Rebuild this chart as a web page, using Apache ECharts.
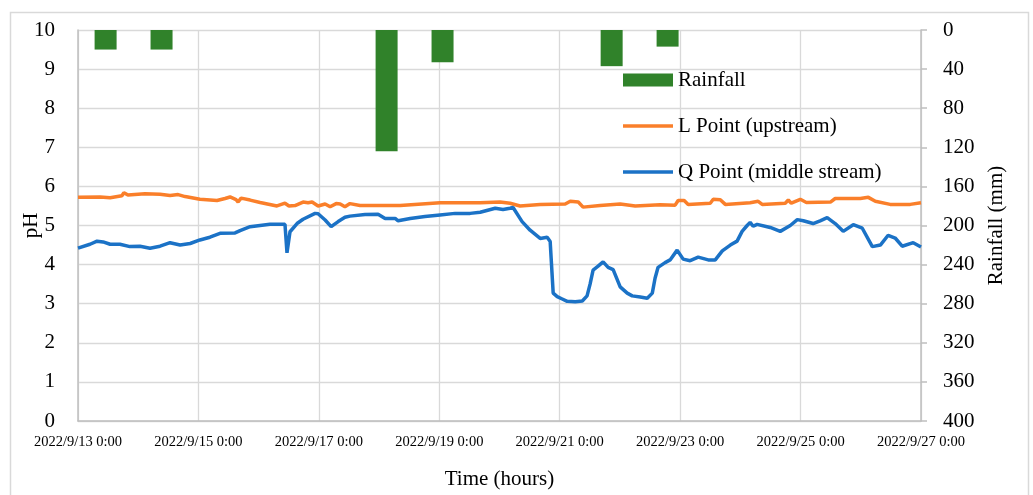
<!DOCTYPE html>
<html>
<head>
<meta charset="utf-8">
<script src="https://cdn.jsdelivr.net/npm/echarts@6/dist/echarts.min.js"></script>
<style>
  html, body { margin: 0; padding: 0; background: #fff; }
</style>
</head>
<body>
<div id="main" style="width: 1033px; height: 495px"></div>
<script>
// x values are hours after 2022/9/13 0:00
var xLabels = ['2022/9/13 0:00', '2022/9/15 0:00', '2022/9/17 0:00', '2022/9/19 0:00',
  '2022/9/21 0:00', '2022/9/23 0:00', '2022/9/25 0:00', '2022/9/27 0:00']

// rainfall (mm)
var rainHours = [11.0, 33.3, 123.0, 145.3, 212.7, 235.0]
var rainValues = [20, 20, 124, 33, 37, 17]

// L Point (upstream)
var lHours = [0, 8.8, 12.8, 17.5, 18.3, 19.9, 26.7, 32.7, 36.7, 39.9, 42.7, 48.6, 55.4, 58.6, 60.6, 63,
  63.8, 65, 68.6, 72.6, 79.3, 82.5, 84.1, 86.5, 89.7, 91.7, 93.3, 95.7, 98.5, 100.5, 102.9, 104.5,
  106.4, 108.4, 112.4, 128.4, 144.3, 160.3, 168.2, 172.2, 176.2, 184.2, 194.2, 196.2, 199.4, 201.3,
  208.1, 216.1, 222.1, 232, 238, 239.2, 241.6, 243.2, 252, 253.2, 256, 258, 267.9, 271.1, 272.7,
  281.9, 283.1, 284.3, 287.9, 290.3, 299.9, 301.8, 311.8, 315, 317.8, 323.7, 331.7, 336]
var lPH = [5.72, 5.73, 5.71, 5.76, 5.84, 5.78, 5.81, 5.8, 5.77, 5.79, 5.74, 5.67, 5.64, 5.69, 5.73, 5.66,
  5.6, 5.7, 5.65, 5.59, 5.5, 5.57, 5.5, 5.51, 5.6, 5.58, 5.6, 5.5, 5.55, 5.48, 5.56, 5.55,
  5.48, 5.56, 5.51, 5.51, 5.58, 5.58, 5.6, 5.57, 5.5, 5.54, 5.55, 5.62, 5.6, 5.47,
  5.51, 5.55, 5.5, 5.53, 5.52, 5.64, 5.64, 5.54, 5.57, 5.67, 5.66, 5.54, 5.58, 5.62, 5.54,
  5.57, 5.65, 5.57, 5.67, 5.59, 5.6, 5.69, 5.69, 5.72, 5.62, 5.54, 5.54, 5.58]

// Q Point (middle stream)
var qHours = [0, 4.8, 7.6, 10, 12.8, 16.7, 20.7, 24.7, 28.7, 32.7, 36.7, 40.7, 44.7, 48.6, 52.6, 56.6,
  62.6, 64.6, 68.6, 76.5, 82.5, 83.3, 84.5, 87.3, 89.7, 94.5, 95.7, 98.5, 100.9, 103.7, 106.4, 108.4,
  114.4, 119.6, 122.4, 126.4, 127.6, 132.4, 138.3, 144.3, 150.3, 156.3, 160.3, 166.3, 169.4, 172.2,
  173.4, 177, 180.2, 184.2, 187, 188.2, 189.4, 191, 193, 195, 198.2, 201, 202.9, 204.1, 205.3, 207.3,
  209.3, 211.3, 213.3, 216.1, 218.9, 220.9, 224.1, 226.9, 228.9, 230, 231.2, 234, 236, 238.8, 241.2,
  244, 247.2, 251.2, 254, 256.8, 260, 262.7, 264.7, 266.7, 267.9, 269.1, 270.7, 275.9, 279.9, 283.9,
  286.7, 289.1, 293, 295.8, 298.6, 301.8, 305, 309, 312.6, 316.6, 319.8, 322.9, 325.7, 328.5, 332.9, 336]
var qPH = [4.42, 4.52, 4.6, 4.58, 4.52, 4.52, 4.46, 4.47, 4.42, 4.47, 4.56, 4.5, 4.54, 4.63, 4.7, 4.8,
  4.81, 4.87, 4.97, 5.03, 5.03, 4.3, 4.84, 5.05, 5.16, 5.31, 5.3, 5.14, 4.97, 5.1, 5.21, 5.24,
  5.28, 5.29, 5.18, 5.18, 5.12, 5.18, 5.23, 5.27, 5.31, 5.31, 5.34, 5.44, 5.41, 5.44,
  5.46, 5.1, 4.88, 4.67, 4.7, 4.59, 3.27, 3.18, 3.12, 3.06, 3.05, 3.07, 3.2, 3.5, 3.86, 3.96,
  4.07, 3.93, 3.87, 3.43, 3.27, 3.2, 3.17, 3.14, 3.27, 3.65, 3.93, 4.05, 4.12, 4.37, 4.14,
  4.1, 4.19, 4.12, 4.12, 4.35, 4.5, 4.6, 4.85, 5.0, 5.08, 4.98, 5.03, 4.95, 4.85, 5.0,
  5.15, 5.12, 5.05, 5.12, 5.2, 5.05, 4.85, 5.02, 4.93, 4.46, 4.5, 4.75, 4.68, 4.47, 4.56, 4.45]

function pairs(xs, ys) {
  return xs.map(function(x, i) { return [x, ys[i]] })
}

var font = 'Liberation Serif'
var lineIcon = 'path://M0,0H50V3.4H0Z'
var myChart = echarts.init(document.getElementById('main'))
var option = {
  animation: false,
  textStyle: { fontFamily: font, color: '#000' },
  graphic: [
    {
      type: 'rect',
      shape: { x: 10.5, y: 12.5, width: 1018, height: 500 },
      style: { fill: 'none', stroke: '#D9D9D9', lineWidth: 1.5 },
      silent: true
    }
  ],
  legend: {
    orient: 'vertical',
    left: 623,
    top: 69.5,
    padding: 0,
    itemWidth: 50,
    itemHeight: 13,
    itemGap: 25,
    textStyle: { fontFamily: font, fontSize: 21, color: '#000' },
    data: [
      { name: 'Rainfall', icon: 'rect' },
      { name: 'L Point (upstream)', icon: lineIcon },
      { name: 'Q Point (middle stream)', icon: lineIcon }
    ]
  },
  grid: {
    left: 78,
    right: 112,
    top: 30,
    bottom: 74
  },
  xAxis: {
    type: 'value',
    min: 0,
    max: 336,
    interval: 48,
    name: 'Time (hours)',
    nameLocation: 'middle',
    nameGap: 48,
    nameMoveOverlap: false,
    nameTextStyle: { fontFamily: font, fontSize: 21, color: '#000' },
    axisLine: { lineStyle: { color: '#BFBFBF', width: 1.5 } },
    axisTick: { show: false },
    axisLabel: {
      margin: 14,
      fontFamily: font,
      fontSize: 14.5,
      color: '#000',
      formatter: function(v) { return xLabels[Math.round(v / 48)] }
    },
    splitLine: { show: true, lineStyle: { color: '#D9D9D9', width: 1.3 } }
  },
  yAxis: [
    {
      type: 'value',
      min: 0,
      max: 10,
      interval: 1,
      name: 'pH',
      nameLocation: 'middle',
      nameGap: 36,
      nameMoveOverlap: false,
      nameTextStyle: { fontFamily: font, fontSize: 21, color: '#000' },
      axisLine: { show: true, lineStyle: { color: '#BFBFBF', width: 1.5 } },
      axisTick: { show: false },
      axisLabel: { margin: 23, fontFamily: font, fontSize: 21, color: '#000' },
      splitLine: { show: true, lineStyle: { color: '#D9D9D9', width: 1.3 } }
    },
    {
      type: 'value',
      inverse: true,
      min: 0,
      max: 400,
      interval: 40,
      position: 'right',
      name: 'Rainfall (mm)',
      nameLocation: 'middle',
      nameGap: 65,
      nameMoveOverlap: false,
      nameTextStyle: { fontFamily: font, fontSize: 21, color: '#000' },
      axisLine: { show: true, lineStyle: { color: '#BFBFBF', width: 1.5 } },
      axisTick: { show: true, length: 6, lineStyle: { color: '#BFBFBF', width: 1.5 } },
      axisLabel: { margin: 22, fontFamily: font, fontSize: 21, color: '#000' },
      splitLine: { show: false }
    }
  ],
  series: [
    {
      name: 'Rainfall',
      type: 'bar',
      yAxisIndex: 1,
      barWidth: 22,
      itemStyle: { color: '#30822A' },
      data: pairs(rainHours, rainValues)
    },
    {
      name: 'L Point (upstream)',
      type: 'line',
      yAxisIndex: 0,
      symbol: 'none',
      lineStyle: { color: '#FA7F2A', width: 3.5 },
      itemStyle: { color: '#FA7F2A' },
      data: pairs(lHours, lPH)
    },
    {
      name: 'Q Point (middle stream)',
      type: 'line',
      yAxisIndex: 0,
      symbol: 'none',
      lineStyle: { color: '#1B72C6', width: 3.5 },
      itemStyle: { color: '#1B72C6' },
      data: pairs(qHours, qPH)
    }
  ]
}
myChart.setOption(option)
</script>
</body>
</html>
